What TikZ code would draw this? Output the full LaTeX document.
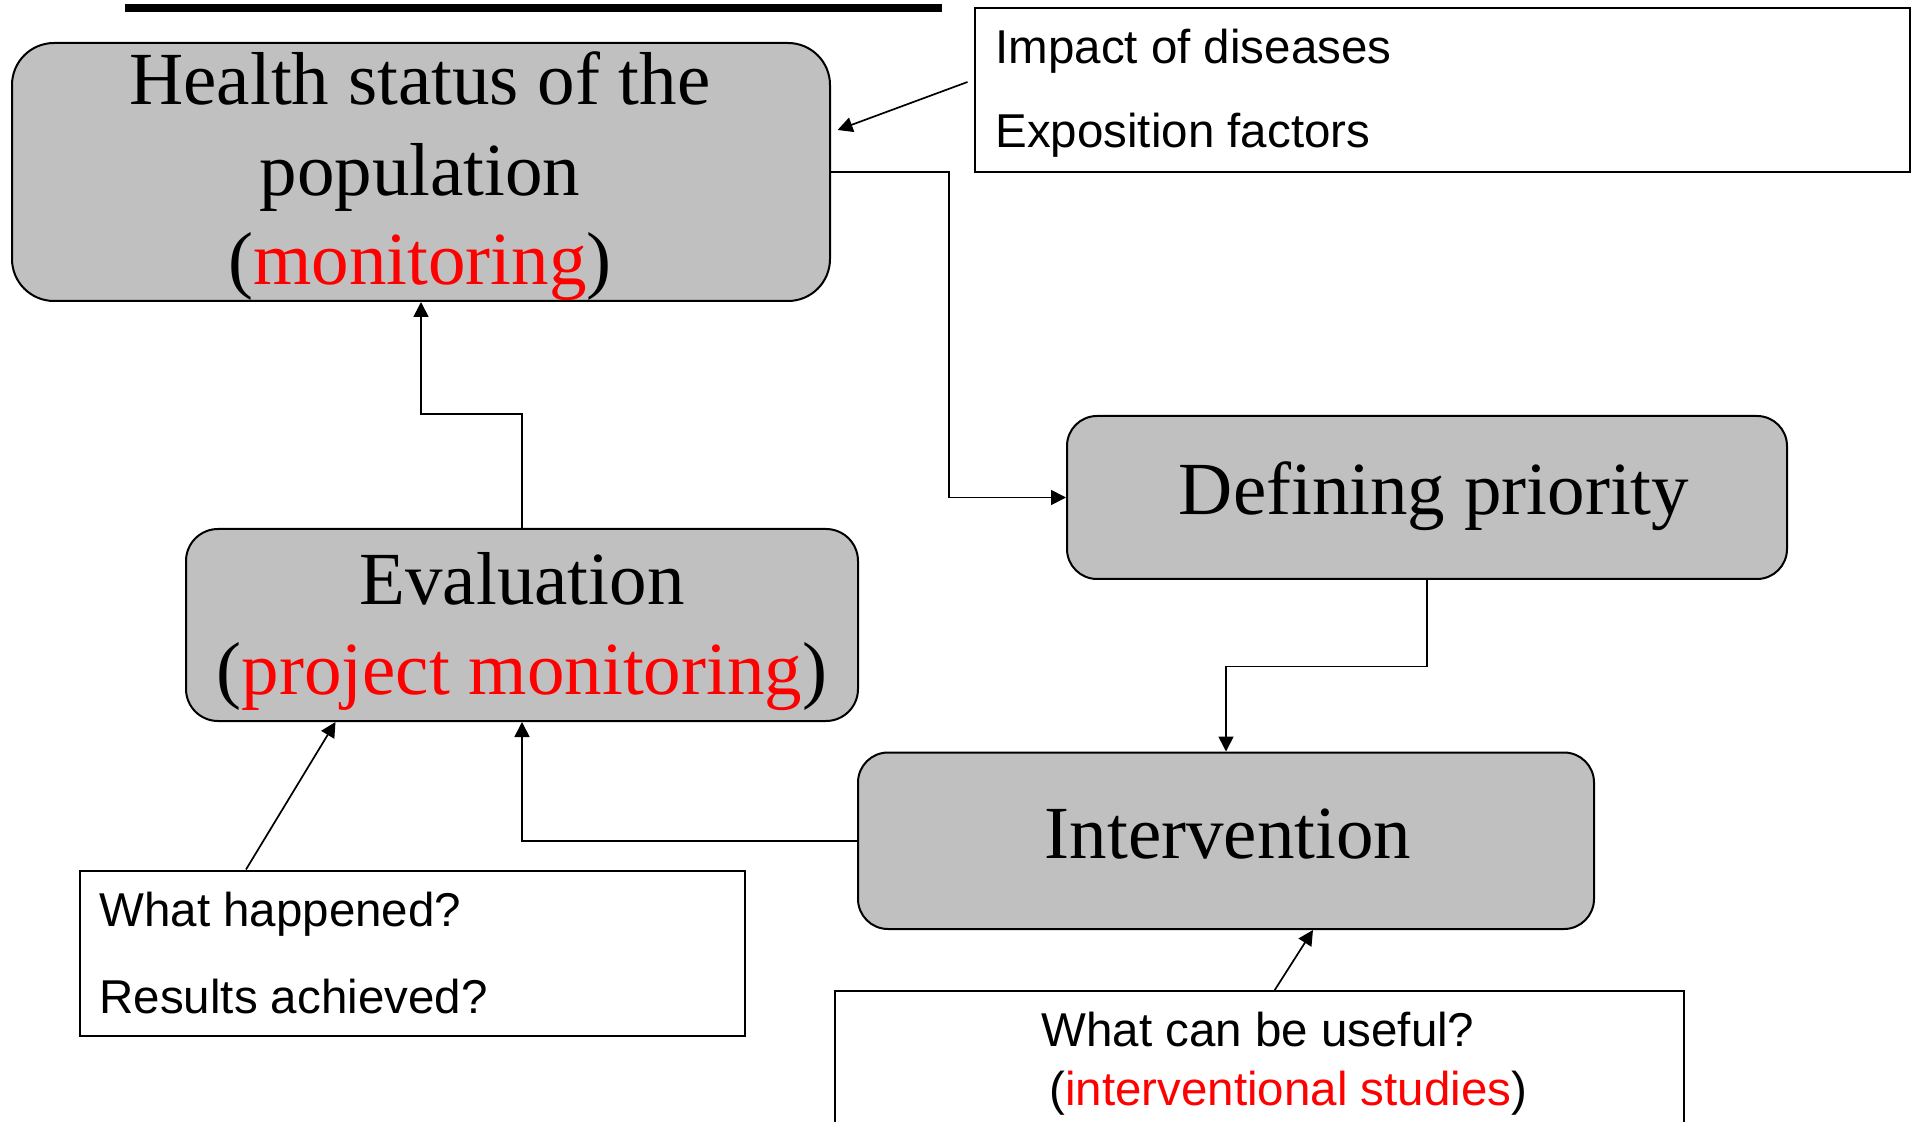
\documentclass[tikz,border=0pt]{standalone}
\usepackage{fontspec}
\setmainfont{Liberation Serif}
\newfontfamily\arialf{Liberation Sans}
\usetikzlibrary{arrows.meta}
\definecolor{boxgray}{HTML}{C0C0C0}
\begin{document}
\begin{tikzpicture}[x=0.5pt,y=-0.5pt,
  gbox/.style={draw=black, line width=1pt, fill=boxgray, inner sep=0pt},
  wbox/.style={draw=black, line width=1pt, fill=white, inner sep=0pt},
  conn/.style={line width=0.85pt, -{Triangle[length=7.5pt,width=7.5pt]}},
  bigtxt/.style={font=\fontsize{37.5}{44}\selectfont, inner sep=0pt, anchor=base},
  smalltxt/.style={font=\arialf\fontsize{23.75}{28}\selectfont, inner sep=0pt, anchor=base west}]
\useasboundingbox (0,0) rectangle (1912,1122);
\fill[white] (0,0) rectangle (1912,1122);
\clip (0,0) rectangle (1912,1122);
% top bar
\fill[black] (125,4) rectangle (942,12.5);
% boxes
\node[gbox, rounded corners=21pt, minimum width=409pt, minimum height=129pt] (health) at (421,172) {};
\node[gbox, rounded corners=16pt, minimum width=336pt, minimum height=96pt] (eval) at (522,625) {};
\node[gbox, rounded corners=15pt, minimum width=360pt, minimum height=81.5pt] (defp) at (1427,497.5) {};
\node[gbox, rounded corners=15pt, minimum width=368pt, minimum height=88.25pt] (interv) at (1226,840.75) {};
\node[wbox, minimum width=467.75pt, minimum height=82pt] (impact) at (1442.25,90) {};
\node[wbox, minimum width=332.5pt, minimum height=82.75pt] (what) at (412.5,953.25) {};
\node[wbox, minimum width=424.25pt, minimum height=74.5pt] (useful) at (1259.25,1065.5) {};
% texts
\node[bigtxt] (h1) at (420,105) {Health status of the};
\node[bigtxt] (h2) at (420,196) {population};
\node[bigtxt] (h3) at (420,285) {(\textcolor{red}{monitoring})};
\node[bigtxt] (e1) at (522,604.5) {Evaluation};
\node[bigtxt] (e2) at (522,694.7) {(\textcolor{red}{project monitoring})};
\node[bigtxt] (d1) at (1434,515) {Defining priority};
\node[bigtxt] (i1) at (1228,858) {Intervention};
\node[smalltxt] (im1) at (995,63.5) {Impact of diseases};
\node[smalltxt] (im2) at (995,147.5) {Exposition factors};
\node[smalltxt] (w1) at (99,926) {What happened?};
\node[smalltxt] (w2) at (99,1013) {Results achieved?};
\node[smalltxt] (u1) at (1041,1046.7) {What can be useful?};
\node[smalltxt] (u2) at (1049,1105) {(\textcolor{red}{interventional studies})};
% connectors
\draw[conn] ([xshift=-3pt,yshift=4pt]impact.west) -- ([xshift=3.3pt,yshift=21pt]health.east);
\draw[conn] (health.east) -- ++(118,0) |- (defp.west);
\draw[conn] (defp.south) -- ++(0,86.5) -| (interv.north);
\draw[conn] (interv.west) -| (eval.south);
\draw[conn] (eval.north) -- ++(0,-114) -| (health.south);
\draw[conn] ([xshift=-83.25pt]what.north) -- ([xshift=-93.25pt]eval.south);
\draw[conn] ([xshift=7.75pt]useful.north) -- ([xshift=43.5pt]interv.south);
\end{tikzpicture}
\end{document}
